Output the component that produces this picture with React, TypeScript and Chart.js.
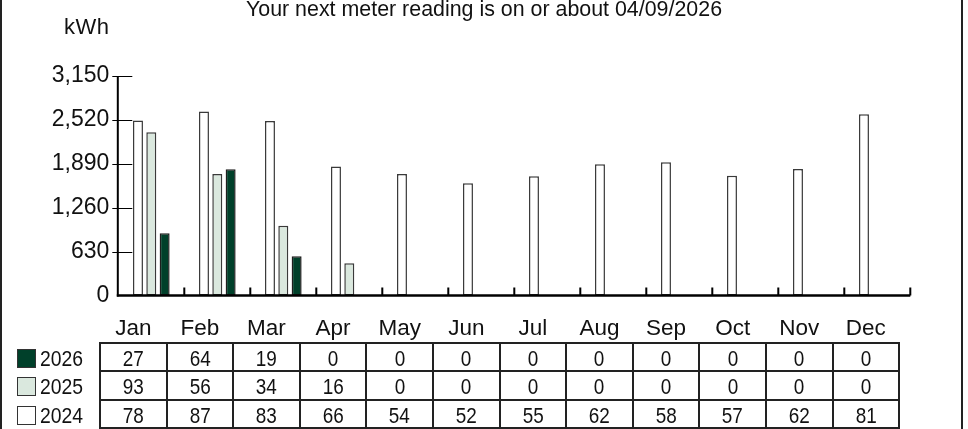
import React, { useEffect, useRef } from 'react';
import { Chart, registerables } from 'chart.js';

Chart.register(...registerables);

const titleText = 'Your next meter reading is on or about 04/09/2026';
const unitLabel = 'kWh';
const months = ['Jan', 'Feb', 'Mar', 'Apr', 'May', 'Jun', 'Jul', 'Aug', 'Sep', 'Oct', 'Nov', 'Dec'];
const yTicks = [0, 630, 1260, 1890, 2520, 3150];

const kwh2024 = [2510, 2640, 2505, 1850, 1742, 1612, 1712, 1884, 1914, 1718, 1815, 2602];
const kwh2025 = [2342, 1745, 1002, 462, 0, 0, 0, 0, 0, 0, 0, 0];
const kwh2026 = [893, 1811, 562, 0, 0, 0, 0, 0, 0, 0, 0, 0];

const table2026 = [27, 64, 19, 0, 0, 0, 0, 0, 0, 0, 0, 0];
const table2025 = [93, 56, 34, 16, 0, 0, 0, 0, 0, 0, 0, 0];
const table2024 = [78, 87, 83, 66, 54, 52, 55, 62, 58, 57, 62, 81];

const C2026 = '#00402a';
const C2025 = '#dae8de';
const C2024 = '#ffffff';

const SANS = "'Liberation Sans', Arial, Helvetica, sans-serif";

const axesPlugin = {
  id: 'axesDecor',
  afterDatasetsDraw(chart: any) {
    const { ctx, chartArea: a, scales } = chart;
    const x = scales.x;
    const y = scales.y;
    ctx.save();
    ctx.strokeStyle = '#000';
    ctx.lineWidth = 1.2;
    ctx.beginPath();
    yTicks.forEach((v) => {
      if (v === 0) return;
      const py = Math.round(y.getPixelForValue(v)) + 0.5;
      ctx.moveTo(a.left - 6, py);
      ctx.lineTo(a.left + 14, py);
    });
    ctx.stroke();
    ctx.lineWidth = 2;
    ctx.beginPath();
    ctx.moveTo(a.left - 0.5, a.top);
    ctx.lineTo(a.left - 0.5, a.bottom + 1);
    ctx.stroke();
    ctx.lineWidth = 2.4;
    ctx.beginPath();
    ctx.moveTo(a.left - 1.5, a.bottom);
    ctx.lineTo(a.right, a.bottom);
    ctx.stroke();
    const half = (x.getPixelForValue(1) - x.getPixelForValue(0)) / 2;
    ctx.lineWidth = 2;
    ctx.beginPath();
    months.forEach((_, i) => {
      const px = x.getPixelForValue(i) + half;
      ctx.moveTo(px, a.bottom);
      ctx.lineTo(px, a.bottom - 8);
    });
    ctx.stroke();
    ctx.restore();
  },
};

function ChartCanvas() {
  const ref = useRef<HTMLCanvasElement | null>(null);
  useEffect(() => {
    if (!ref.current) return;
    Chart.defaults.font.family = SANS;
    const common = {
      borderWidth: 1.5,
      borderSkipped: false,
      categoryPercentage: 40 / 66,
      barPercentage: 0.75,
    };
    const chart = new Chart(ref.current, {
      type: 'bar',
      data: {
        labels: months,
        datasets: [
          { label: '2024', data: kwh2024, backgroundColor: C2024, borderColor: '#3a3a3a', ...common },
          { label: '2025', data: kwh2025, backgroundColor: C2025, borderColor: '#3a3a3a', ...common },
          { label: '2026', data: kwh2026, backgroundColor: C2026, borderColor: '#1e1e1e', ...common },
        ],
      },
      options: {
        responsive: false,
        animation: false,
        devicePixelRatio: 1,
        layout: { padding: { top: 76, bottom: 133.5, left: 0, right: 57.7 } },
        plugins: { legend: { display: false }, title: { display: false }, tooltip: { enabled: false } },
        scales: {
          x: {
            type: 'category',
            offset: true,
            grid: { display: false, drawTicks: false },
            border: { display: false },
            ticks: { display: false },
            afterFit: (s: any) => {
              s.height = 0;
            },
          },
          y: {
            min: 0,
            max: 3150,
            grid: { display: false, drawTicks: false },
            border: { display: false },
            afterBuildTicks: (s: any) => {
              s.ticks = yTicks.map((v) => ({ value: v }));
            },
            ticks: {
              padding: 9,
              color: '#111',
              font: { size: 23, family: SANS },
              callback: (v: any) => Number(v).toLocaleString('en-US'),
            },
            afterFit: (s: any) => {
              s.width = 118.3;
            },
          },
        },
      },
      plugins: [axesPlugin],
    } as any);
    return () => chart.destroy();
  }, []);
  return (
    <canvas
      ref={ref}
      width={968}
      height={429}
      style={{ position: 'absolute', left: 0, top: 0, width: 968, height: 429 }}
    />
  );
}

const rows = [
  { year: '2026', color: C2026, values: table2026 },
  { year: '2025', color: C2025, values: table2025 },
  { year: '2024', color: C2024, values: table2024 },
];

const narrow = (scale: number): React.CSSProperties => ({
  display: 'inline-block',
  transform: `scaleX(${scale})`,
  position: 'relative',
  top: 2,
});

export default function App() {
  useEffect(() => {
    document.body.style.margin = '0';
  }, []);
  const cellBorder = '2px solid #222';
  return (
    <div
      style={{
        position: 'absolute',
        left: 0,
        top: 0,
        width: 968,
        height: 429,
        overflow: 'hidden',
        background: '#fff',
        fontFamily: SANS,
        color: '#111',
      }}
    >
      <ChartCanvas />
      <div
        style={{
          position: 'absolute',
          left: 0,
          top: -1,
          width: 968,
          textAlign: 'center',
          fontSize: 21.4,
          lineHeight: '21px',
          whiteSpace: 'nowrap',
        }}
      >
        {titleText}
      </div>
      <div
        style={{
          position: 'absolute',
          left: 64,
          top: 16,
          fontSize: 22,
          lineHeight: '22px',
          letterSpacing: '0.5px',
          whiteSpace: 'nowrap',
        }}
      >
        {unitLabel}
      </div>
      <table
        style={{
          position: 'absolute',
          left: 10,
          top: 314,
          borderCollapse: 'collapse',
          tableLayout: 'fixed',
          width: 90 + 12 * 66.6,
        }}
      >
        <colgroup>
          <col style={{ width: 90 }} />
          {months.map((m) => (
            <col key={m} style={{ width: 66.6 }} />
          ))}
        </colgroup>
        <thead>
          <tr>
            <th style={{ padding: 0, height: 28 }} />
            {months.map((m) => (
              <th
                key={m}
                style={{
                  padding: 0,
                  height: 28,
                  lineHeight: '28px',
                  fontSize: 22.5,
                  fontWeight: 'normal',
                  fontFamily: SANS,
                  textAlign: 'center',
                }}
              >
                {m}
              </th>
            ))}
          </tr>
        </thead>
        <tbody>
          {rows.map((r) => (
            <tr key={r.year}>
              <th
                style={{
                  padding: '0 0 0 7px',
                  height: 26.3,
                  lineHeight: '26px',
                  fontSize: 22.5,
                  fontWeight: 'normal',
                  fontFamily: SANS,
                  textAlign: 'left',
                  whiteSpace: 'nowrap',
                }}
              >
                <span
                  style={{
                    display: 'inline-block',
                    width: 17,
                    height: 17,
                    border: '1px solid #333',
                    background: r.color,
                    marginRight: 4,
                    verticalAlign: '-4px',
                  }}
                />
                <span style={{ ...narrow(0.86), transformOrigin: 'left center' }}>{r.year}</span>
              </th>
              {r.values.map((v, i) => (
                <td
                  key={i}
                  style={{
                    border: cellBorder,
                    padding: 0,
                    height: 26.3,
                    lineHeight: '26px',
                    fontSize: 22,
                    fontFamily: SANS,
                    textAlign: 'center',
                  }}
                >
                  <span style={narrow(0.86)}>{v}</span>
                </td>
              ))}
            </tr>
          ))}
        </tbody>
      </table>
      <div
        style={{
          position: 'absolute',
          left: 0,
          top: 0,
          width: 963,
          height: 429,
          boxSizing: 'border-box',
          borderLeft: '2px solid #222',
          borderRight: '2px solid #222',
          pointerEvents: 'none',
        }}
      />
    </div>
  );
}
